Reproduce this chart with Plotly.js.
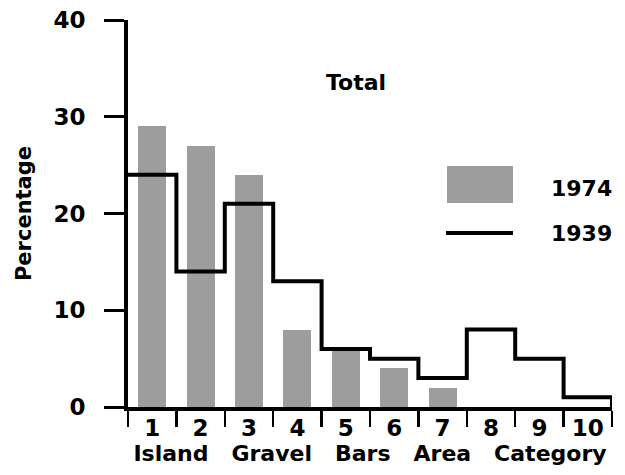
<!DOCTYPE html>
<html><head><meta charset="utf-8">
<script src="https://cdn.plot.ly/plotly-3.0.1.min.js"></script>
<style>html,body{margin:0;padding:0;background:#fff}</style>
</head><body><div id="chart" style="width:625px;height:475px"></div>
<script>
const categories = ['1','2','3','4','5','6','7','8','9','10'];
const pct1974 = [29, 27, 24, 8, 6, 4, 2, 0, 0, 0];
const pct1939 = [24, 14, 21, 13, 6, 5, 3, 8, 5, 1];
const yTicks = [0, 10, 20, 30, 40];
const seriesNames = ['1974', '1939'];
const xTitle = 'Island   Gravel   Bars   Area   Category';
const yTitle = 'Percentage';
const panelLabel = 'Total';

const FONT = 'DejaVu Sans';
const xPos = categories.map((c, i) => i + 1);
const edges = [0].concat(xPos).map(v => v + 0.5);

// step outline for 1939 built from the category edges
const stepX = [], stepY = [];
xPos.forEach((x, i) => { stepX.push(x - 0.5); stepY.push(pct1939[i]); });
stepX.push(xPos[xPos.length - 1] + 0.5); stepY.push(pct1939[pct1939.length - 1]);
stepX.push(xPos[xPos.length - 1] + 0.5); stepY.push(0);

const barTrace = {
  type: 'bar', x: xPos, y: pct1974, name: seriesNames[0], width: 0.58,
  marker: {color: '#9d9d9d', line: {width: 0}},
  showlegend: false, hoverinfo: 'skip'
};
const stepTrace = {
  type: 'scatter', mode: 'lines', x: stepX, y: stepY, name: seriesNames[1],
  line: {color: '#000', width: 4, shape: 'hv'},
  showlegend: false, hoverinfo: 'skip'
};

const W = 484, H = 387; // plot area size in px
const px = v => (v - 128) / W;
const py = v => (407 - v) / H;
const f = (s) => ({size: s, family: FONT, color: '#000', weight: 'bold'});

const layout = {
  width: 625, height: 475,
  margin: {l: 128, r: 13, t: 20, b: 68, pad: 0},
  paper_bgcolor: '#fff', plot_bgcolor: '#fff',
  font: {family: FONT, color: '#000'},
  showlegend: false,
  bargap: 0,
  xaxis: {
    range: [0.5, 10.5], tickmode: 'array', tickvals: xPos, ticktext: categories,
    ticks: '', tickfont: f(23),
    ticklabelstandoff: -2,
    showline: true, linecolor: '#000', linewidth: 3.5,
    zeroline: false, showgrid: false,
    minor: {tickmode: 'array', tickvals: edges, ticks: 'outside', ticklen: 16, tickwidth: 2.5, tickcolor: '#000', showgrid: false},
    title: {text: xTitle, font: f(22), standoff: 5}
  },
  yaxis: {
    range: [0, 40], tickmode: 'array', tickvals: yTicks,
    ticks: 'outside', ticklen: 20, tickwidth: 3, tickcolor: '#000',
    tickfont: f(23),
    ticklabelstandoff: 14,
    showline: true, linecolor: '#000', linewidth: 4,
    zeroline: false, showgrid: false,
    title: {text: yTitle, font: f(21), standoff: 17}
  },
  shapes: [
    {type: 'rect', xref: 'paper', yref: 'paper', x0: px(447), x1: px(513), y0: py(203), y1: py(166),
     fillcolor: '#9d9d9d', line: {width: 0}},
    {type: 'line', xref: 'paper', yref: 'paper', x0: px(446), x1: px(513), y0: py(233), y1: py(233),
     line: {color: '#000', width: 4}}
  ],
  annotations: [
    {text: panelLabel, xref: 'paper', yref: 'paper', x: px(356), y: py(83), showarrow: false,
     xanchor: 'center', yanchor: 'middle', font: f(22)},
    {text: seriesNames[0], xref: 'paper', yref: 'paper', x: px(549), y: py(188), showarrow: false,
     xanchor: 'left', yanchor: 'middle', font: f(22)},
    {text: seriesNames[1], xref: 'paper', yref: 'paper', x: px(549), y: py(233), showarrow: false,
     xanchor: 'left', yanchor: 'middle', font: f(22)}
  ]
};

Plotly.newPlot('chart', [barTrace, stepTrace], layout, {staticPlot: true, displayModeBar: false});
</script></body></html>
